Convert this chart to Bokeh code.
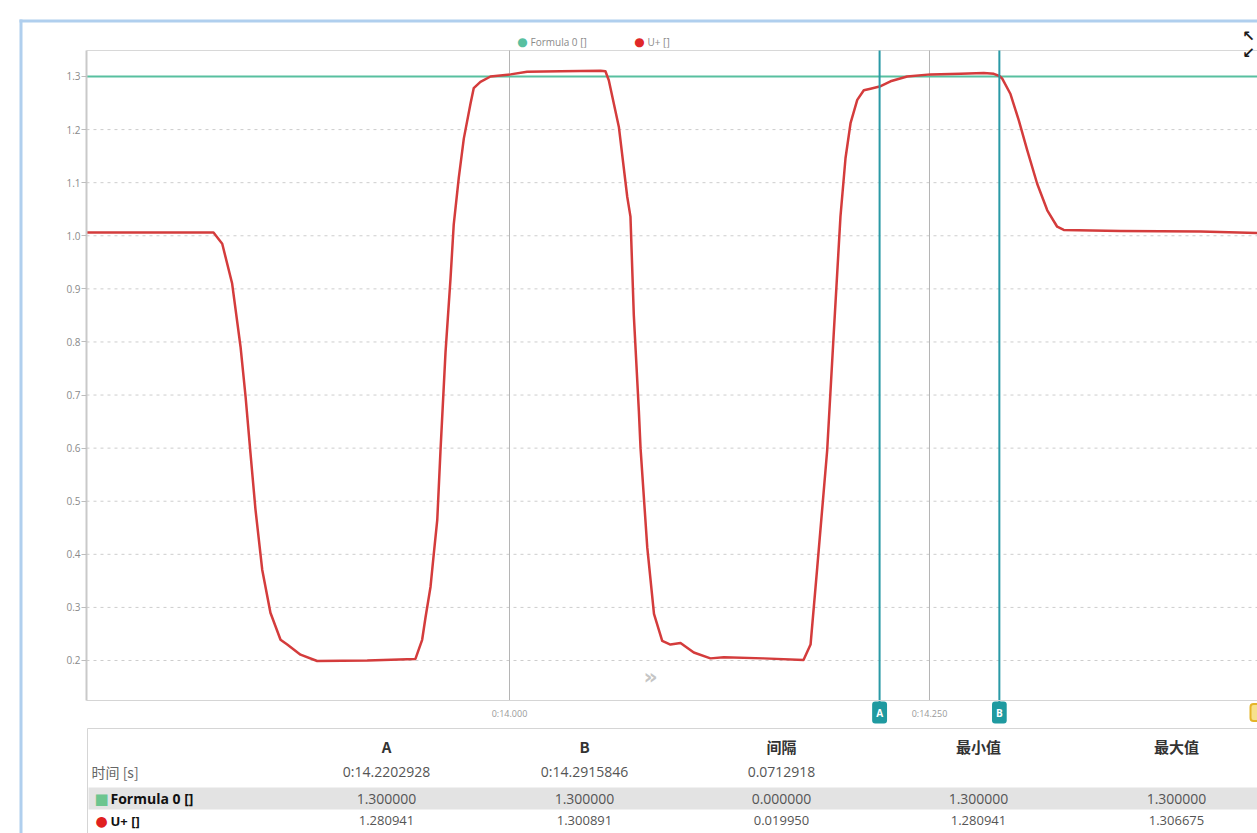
from bokeh.plotting import figure
from bokeh.models import Range1d, FixedTicker, Label, LinearAxis
from bokeh.embed import file_html
from bokeh.resources import INLINE
from bokeh.core.properties import value

# ---------------- data ----------------
u_time = [13.7482, 13.8238, 13.8290, 13.8349, 13.8399, 13.8429, 13.8458, 13.8488,
          13.8528, 13.8577, 13.8637, 13.8677, 13.8756, 13.8855, 13.9153, 13.9440,
          13.9480, 13.9500, 13.9530, 13.9549, 13.9570, 13.9589, 13.9619, 13.9649,
          13.9668, 13.9698, 13.9728, 13.9768, 13.9787, 13.9827, 13.9887, 14.0006,
          14.0105, 14.0304, 14.0542, 14.0571, 14.0591, 14.0651, 14.0701, 14.0720,
          14.0740, 14.0770, 14.0780, 14.0820, 14.0860, 14.0909, 14.0958, 14.1018,
          14.1097, 14.1196, 14.1276, 14.1512, 14.1750, 14.1792, 14.1832, 14.1891,
          14.1930, 14.1970, 14.2000, 14.2030, 14.2070, 14.2109, 14.2149, 14.2203,
          14.2268, 14.2367, 14.2506, 14.2685, 14.2823, 14.2883, 14.2916, 14.2933,
          14.2982, 14.3032, 14.3082, 14.3141, 14.3201, 14.3260, 14.3299, 14.3637,
          14.4113, 14.4452]
u_value = [1.006, 1.006, 0.985, 0.910, 0.791, 0.697, 0.591, 0.484,
           0.371, 0.290, 0.239, 0.230, 0.211, 0.199, 0.200, 0.203,
           0.239, 0.281, 0.339, 0.400, 0.465, 0.594, 0.780, 0.920,
           1.021, 1.109, 1.183, 1.249, 1.278, 1.290, 1.300, 1.304,
           1.309, 1.310, 1.311, 1.310, 1.293, 1.205, 1.073, 1.036,
           0.850, 0.670, 0.600, 0.413, 0.288, 0.237, 0.230, 0.233,
           0.215, 0.204, 0.206, 0.204, 0.201, 0.230, 0.376, 0.596,
           0.816, 1.036, 1.146, 1.212, 1.256, 1.274, 1.277, 1.281,
           1.291, 1.300, 1.304, 1.305, 1.3067, 1.305, 1.301, 1.296,
           1.267, 1.217, 1.161, 1.098, 1.048, 1.017, 1.011, 1.009,
           1.008, 1.005]
formula_time = [13.7482, 14.4452]
formula_value = [1.3, 1.3]

cursor_names = ["A", "B"]
cursor_times = [14.2202928, 14.2915846]

y_ticks = [0.2, 0.3, 0.4, 0.5, 0.6, 0.7, 0.8, 0.9, 1.0, 1.1, 1.2, 1.3]
y_tick_labels = ["0.2", "0.3", "0.4", "0.5", "0.6", "0.7", "0.8", "0.9", "1.0", "1.1", "1.2", "1.3"]
x_ticks = [14.0, 14.25]
x_tick_labels = ["0:14.000", "0:14.250"]

legend_names = ["Formula 0 []", "U+ []"]

table_columns = ["A", "B", "间隔", "最小值", "最大值"]
table_time_label = "时间 [s]"
table_time_row = ["0:14.2202928", "0:14.2915846", "0.0712918", "", ""]
table_formula_row = ["1.300000", "1.300000", "0.000000", "1.300000", "1.300000"]
table_u_row = ["1.280941", "1.300891", "0.019950", "1.280941", "1.306675"]

# ---------------- styles / layout ----------------
RED = "#d43c3c"
GREEN = "#58c0a0"
TEAL = "#2a9aa6"
BORDER_BLUE = "#b0cfee"
FONT = "Open Sans"
CJK = "Noto Sans CJK SC"

W, H = 1257, 833
# visible window of the data scales (whole canvas)
X_VIEW = (13.69702, 14.44524)
Y_VIEW = (-0.12586, 1.44315)
# plotting area bounds
X_LO, X_HI = 13.74821, 14.44524
Y_LO, Y_HI = 0.12466, 1.34897

p = figure(width=W, height=H, x_range=Range1d(*X_VIEW), y_range=Range1d(*Y_VIEW),
           output_backend="svg", toolbar_location=None,
           x_axis_location=None, y_axis_location=None, min_border=0)
p.grid.visible = False
p.outline_line_color = None
p.background_fill_color = "white"
p.border_fill_color = "white"
p.extra_x_ranges = {"px": Range1d(0, W)}
p.extra_y_ranges = {"px": Range1d(H, 0)}

# axes fixed at the plotting area edges
yax = LinearAxis(fixed_location=X_LO, bounds=(Y_LO, Y_HI), ticker=FixedTicker(ticks=y_ticks),
                 major_label_overrides={tk: lb for tk, lb in zip(y_ticks, y_tick_labels)})
yax.axis_line_color = "#c9c9c9"
yax.axis_line_width = 2
yax.major_tick_out = 5
yax.major_tick_in = 0
yax.major_tick_line_color = "#bdbdbd"
yax.minor_tick_line_color = None
yax.major_label_text_font_size = "10px"
yax.major_label_text_color = "#8a8a8a"
yax.major_label_text_font = FONT
yax.major_label_standoff = 1
p.add_layout(yax, "left")

xax = LinearAxis(fixed_location=Y_LO, bounds=(X_LO, X_HI), ticker=FixedTicker(ticks=x_ticks),
                 major_label_overrides={tk: lb for tk, lb in zip(x_ticks, x_tick_labels)})
xax.axis_line_color = "#d5d5d5"
xax.major_tick_out = 0
xax.major_tick_in = 0
xax.minor_tick_line_color = None
xax.major_label_text_font_size = "9px"
xax.major_label_text_color = "#999999"
xax.major_label_text_font = FONT
xax.major_label_standoff = 7
p.add_layout(xax, "below")

# window border
p.quad(left=[19], right=[22], top=[19], bottom=[H], fill_color=BORDER_BLUE, line_alpha=0,
       x_range_name="px", y_range_name="px")
p.quad(left=[19], right=[W], top=[19], bottom=[22], fill_color=BORDER_BLUE, line_alpha=0,
       x_range_name="px", y_range_name="px")
# top edge of plotting area
p.segment(x0=[86], x1=[W], y0=[50], y1=[50], line_color="#d8d8d8", line_width=1,
          x_range_name="px", y_range_name="px")

# grid lines
grid_y = y_ticks[:-1]
p.segment(x0=[X_LO] * len(grid_y), x1=[X_HI] * len(grid_y), y0=grid_y, y1=grid_y,
          line_color="#cdcdcd", line_dash="3 4", line_width=1)
p.segment(x0=x_ticks, x1=x_ticks, y0=[Y_LO] * len(x_ticks), y1=[Y_HI] * len(x_ticks),
          line_color="#b5b5b5", line_width=1)

# series
p.line(formula_time, formula_value, line_color=GREEN, line_width=2)
p.line(u_time, u_value, line_color=RED, line_width=2.5, line_join="round")

# cursors
p.segment(x0=cursor_times, x1=cursor_times, y0=[Y_LO - 0.01] * 2, y1=[Y_HI] * 2,
          line_color=TEAL, line_width=2)
for name, ct in zip(cursor_names, cursor_times):
    p.add_layout(Label(x=ct, y=712, y_range_name="px", text=name, text_color="white",
                       text_font=FONT, text_font_size="10px", text_font_style="bold",
                       text_align="center", text_baseline="middle",
                       background_fill_color="#1f9aa0", padding=4, border_radius=3))
p.add_layout(Label(x=1250, y=712, x_range_name="px", y_range_name="px", text="  ",
                   text_font_size="10px", text_align="left", text_baseline="middle",
                   background_fill_color="#f7e18c", border_line_color="#e5b52a",
                   border_line_width=2, padding=3, border_radius=3))

# scroll chevrons
p.add_layout(Label(x=650, y=676, x_range_name="px", y_range_name="px", text="»",
                   text_color="#c5c5c5", text_font="DejaVu Sans", text_font_size="22px",
                   text_font_style="bold", text_align="center", text_baseline="middle"))

# legend
legend_x = [522, 639]
legend_colors = [GREEN, "#e02828"]
for lx, c, n in zip(legend_x, legend_colors, legend_names):
    p.add_layout(Label(x=lx, y=41, x_range_name="px", y_range_name="px", text="●",
                       text_color=c, text_font="DejaVu Sans", text_font_size="12px",
                       text_align="center", text_baseline="middle"))
    p.add_layout(Label(x=lx + 8, y=41, x_range_name="px", y_range_name="px", text=n,
                       text_color="#8a8a8a", text_font=FONT, text_font_size="10px",
                       text_align="left", text_baseline="middle"))

# expand icon
p.add_layout(Label(x=1248, y=35, x_range_name="px", y_range_name="px", text="↖",
                   text_color="#1a1a1a", text_font="DejaVu Sans", text_font_size="15px",
                   text_font_style="bold", text_align="center", text_baseline="middle"))
p.add_layout(Label(x=1248, y=52, x_range_name="px", y_range_name="px", text="↙",
                   text_color="#1a1a1a", text_font="DejaVu Sans", text_font_size="15px",
                   text_font_style="bold", text_align="center", text_baseline="middle"))

# ---------------- cursor table ----------------
col_x = [386, 584, 781, 978, 1176]
y_head, y_time, y_formula, y_u = 746, 771, 798, 820

p.quad(left=[87], right=[W + 10], top=[728], bottom=[H + 10], fill_alpha=0,
       line_color="#d5d5d5", x_range_name="px", y_range_name="px")
p.quad(left=[88], right=[W + 10], top=[787], bottom=[809], fill_color="#e3e3e3",
       line_alpha=0, x_range_name="px", y_range_name="px")

p.text(x=col_x, y=[y_head] * 5, text=table_columns, text_align="center",
       text_baseline="middle", text_font=value(CJK), text_font_style="bold",
       text_font_size="15px", text_color="#333333", x_range_name="px", y_range_name="px")
p.text(x=[91], y=[y_time], text=[table_time_label], text_align="left",
       text_baseline="middle", text_font=value(CJK), text_font_size="14px",
       text_color="#666666", x_range_name="px", y_range_name="px")
p.text(x=col_x, y=[y_time] * 5, text=table_time_row, text_align="center",
       text_baseline="middle", text_font=value(FONT), text_font_size="14px",
       text_color="#555555", x_range_name="px", y_range_name="px")

p.text(x=[101], y=[y_formula], text=["■"], text_align="center", text_baseline="middle",
       text_font=value("DejaVu Sans"), text_font_size="15px", text_color="#6cc58f",
       x_range_name="px", y_range_name="px")
p.text(x=[110], y=[y_formula], text=[legend_names[0]], text_align="left",
       text_baseline="middle", text_font=value(FONT), text_font_style="bold",
       text_font_size="14px", text_color="#111111", x_range_name="px", y_range_name="px")
p.text(x=col_x, y=[y_formula] * 5, text=table_formula_row, text_align="center",
       text_baseline="middle", text_font=value(FONT), text_font_size="14px",
       text_color="#555555", x_range_name="px", y_range_name="px")

p.text(x=[101], y=[y_u], text=["●"], text_align="center", text_baseline="middle",
       text_font=value("DejaVu Sans"), text_font_size="14px", text_color="#e02020",
       x_range_name="px", y_range_name="px")
p.text(x=[110], y=[y_u], text=[legend_names[1]], text_align="left",
       text_baseline="middle", text_font=value(FONT), text_font_style="bold",
       text_font_size="13px", text_color="#111111", x_range_name="px", y_range_name="px")
p.text(x=col_x, y=[y_u] * 5, text=table_u_row, text_align="center",
       text_baseline="middle", text_font=value(FONT), text_font_size="13px",
       text_color="#555555", x_range_name="px", y_range_name="px")

open("out.html", "w").write(file_html(p, INLINE))
